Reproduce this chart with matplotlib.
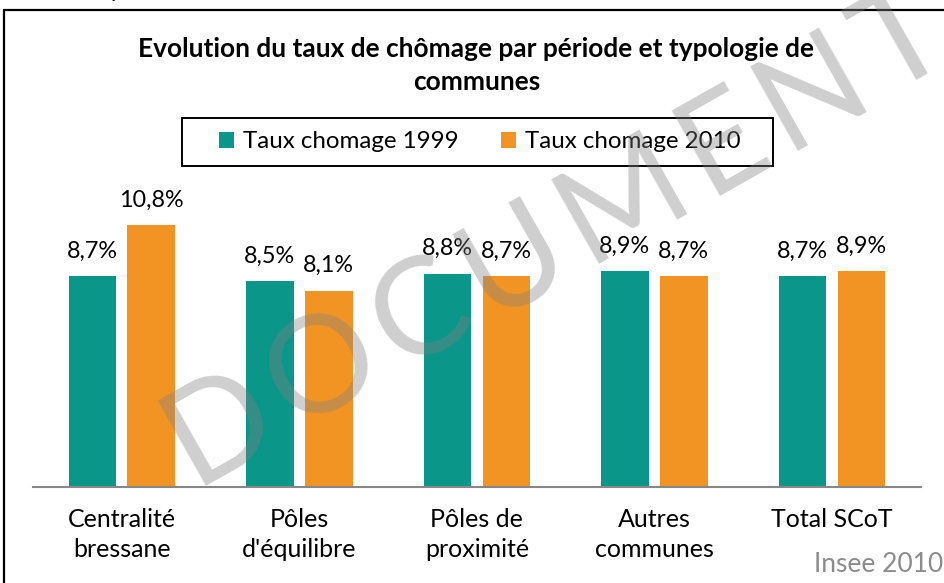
import matplotlib.pyplot as plt
import matplotlib.patches as mpatches
from matplotlib.font_manager import FontProperties
from matplotlib.textpath import TextToPath
import numpy as np

# donnees
categories = ["Centralité\nbressane", "Pôles\nd'équilibre", "Pôles de\nproximité",
              "Autres\ncommunes", "Total SCoT"]
taux_1999 = [8.7, 8.5, 8.8, 8.9, 8.7]
taux_2010 = [10.8, 8.1, 8.7, 8.7, 8.9]
series_labels = ["Taux chomage 1999", "Taux chomage 2010"]

teal = '#0a9689'
orange = '#f29424'

plt.rcParams['font.family'] = ['Lato', 'DejaVu Sans']

W, H = 945, 583
fig = plt.figure(figsize=(W / 100, H / 100), dpi=100)
ax = fig.add_axes([33 / W, (H - 487) / H, 887.7 / W, 290.6 / H])

x = np.arange(len(categories))
w = 0.268
off = 0.166
b1 = ax.bar(x - off, taux_1999, w, color=teal, label=series_labels[0], zorder=2)
b2 = ax.bar(x + off, taux_2010, w, color=orange, label=series_labels[1], zorder=2)

for bars, vals in [(b1, taux_1999), (b2, taux_2010)]:
    for r, v in zip(bars, vals):
        ax.annotate(f"{v:.1f}%".replace('.', ','),
                    (r.get_x() + r.get_width() / 2, v),
                    xytext=(0, 13.5), textcoords='offset points',
                    ha='center', va='baseline', fontsize=16.8, color='black')

ax.set_xlim(-0.5, 4.5)
ax.set_ylim(0, 12)
ax.set_yticks([])
ax.set_xticks(x)
ax.set_xticklabels(categories, fontsize=18, linespacing=1.38)
ax.tick_params(axis='x', length=0, pad=15)
for s in ['top', 'left', 'right']:
    ax.spines[s].set_visible(False)
ax.spines['bottom'].set_color('#878787')
ax.spines['bottom'].set_linewidth(1.5)

# titre
fig.text(476.5 / W, 1 - 57 / H,
         "Evolution du taux de chômage par période et typologie de",
         ha='center', va='baseline', fontsize=18.9, fontweight='bold')
fig.text(476.5 / W, 1 - 90 / H, "communes",
         ha='center', va='baseline', fontsize=18.9, fontweight='bold')

# legende
leg = ax.legend(loc='center', bbox_to_anchor=(480 / W, 1 - 142 / H),
                bbox_transform=fig.transFigure, ncol=2, frameon=False,
                fontsize=17.4, handlelength=0.6, handleheight=0.6,
                handletextpad=0.4, columnspacing=1.75)
fig.patches.append(mpatches.Rectangle((182 / W, 1 - 166 / H), 591 / W, 48 / H,
                                      transform=fig.transFigure, fill=False,
                                      edgecolor='black', linewidth=1.4))

# cadre
fig.patches.append(mpatches.Rectangle((4 / W, -0.05), 1.1, 1.05 - 10 / H,
                                      transform=fig.transFigure, fill=False,
                                      edgecolor='black', linewidth=1.6))

fig.text(1 - 2 / W, 1 - 572 / H, "Insee 2010", ha='right', va='baseline',
         fontsize=19, color='#8c8c8c')
fig.text(110 / W, 1 + 3 / H, "p", ha='left', va='baseline', fontsize=16)

# filigrane, lettre par lettre avec un peu d'espacement
wm = "DOCUMENT DE TRAVAIL"
wm_px = 136
prop = FontProperties(family='Lato', size=wm_px)
ttp = TextToPath()
ang = np.deg2rad(29.5)
x0, y0 = 194, 486
for i, ch in enumerate(wm):
    adv = ttp.get_text_width_height_descent(wm[:i], prop, ismath=False)[0] if i else 0
    adv += 12 * i
    px = x0 + adv * np.cos(ang)
    py = y0 - adv * np.sin(ang)
    fig.text(px / W, 1 - py / H, ch, rotation=29.5, rotation_mode='anchor',
             ha='left', va='baseline', fontsize=wm_px * 0.72, family='Lato',
             color='#808080', alpha=0.38, zorder=10)

fig.savefig('out.png', dpi=100)
